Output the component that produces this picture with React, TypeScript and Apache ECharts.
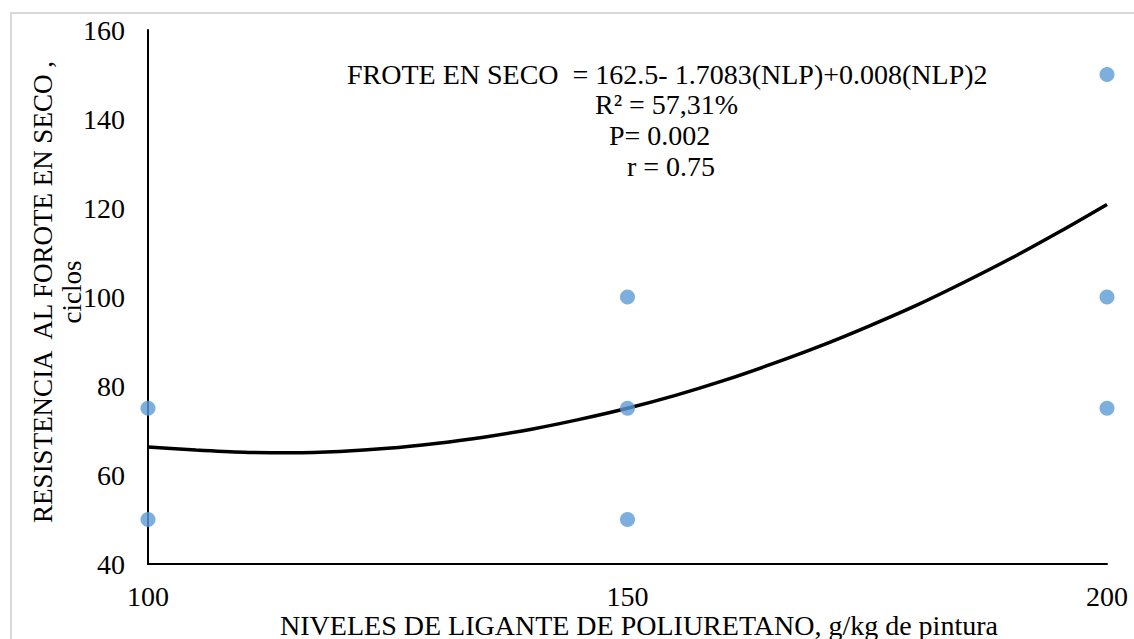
import React, { useEffect, useRef } from "react";
import * as echarts from "echarts";

const xTicks = [100, 150, 200];
const yTicks = [40, 60, 80, 100, 120, 140, 160];

// observed data points (x = NLP level, y = cycles)
const obsX = [100, 100, 150, 150, 150, 200, 200, 200];
const obsY = [75, 50, 100, 75, 50, 150, 100, 75];

// fitted trend curve
const curveX = [100, 105, 110, 115, 120, 125, 130, 135, 140, 145, 150, 155, 160, 165, 170, 175, 180, 185, 190, 195, 200];
const curveY = [66.3, 65.6, 65.1, 65.0, 65.3, 66.0, 67.1, 68.5, 70.3, 72.5, 75.0, 77.9, 81.2, 84.9, 88.9, 93.3, 98.0, 103.2, 108.7, 114.6, 120.8];

const annotationLines = [
  "FROTE EN SECO  = 162.5- 1.7083(NLP)+0.008(NLP)2",
  "R² = 57,31%",
  "P= 0.002",
  "r = 0.75",
];
const yName1 = "RESISTENCIA  AL FOROTE EN SECO ,";
const yName2 = "ciclos";
const xName = "NIVELES DE LIGANTE DE POLIURETANO, g/kg de pintura";

const FONT = "Liberation Serif";

export default function App() {
  const ref = useRef<HTMLDivElement>(null);
  useEffect(() => {
    document.body.style.margin = "0";
    const chart = echarts.init(ref.current!, null, { renderer: "svg" });
    const annX = [347, 595, 609, 627];
    const annY = [74, 104, 135, 166];
    chart.setOption({
      animation: false,
      backgroundColor: "#ffffff",
      textStyle: { fontFamily: FONT },
      grid: { left: 148, right: 27, top: 30, bottom: 75 },
      xAxis: {
        type: "value",
        min: 100,
        max: 200,
        interval: 50,
        axisLine: { show: true, lineStyle: { color: "#000", width: 2 } },
        axisTick: { show: false },
        splitLine: { show: false },
        axisLabel: {
          margin: 18,
          fontFamily: FONT,
          fontSize: 28,
          color: "#000",
          formatter: (v: number) => (xTicks.includes(v) ? String(v) : ""),
        },
      },
      yAxis: {
        type: "value",
        min: 40,
        max: 160,
        interval: 20,
        axisLine: { show: true, lineStyle: { color: "#000", width: 2 } },
        axisTick: { show: false },
        splitLine: { show: false },
        axisLabel: {
          margin: 23,
          fontFamily: FONT,
          fontSize: 28,
          color: "#000",
          formatter: (v: number) => (yTicks.includes(v) ? String(v) : ""),
        },
      },
      series: [
        {
          type: "line",
          data: curveX.map((x, i) => [x, curveY[i]]),
          smooth: 0.3,
          showSymbol: false,
          lineStyle: { color: "#000", width: 3.5 },
          z: 2,
        },
        {
          type: "scatter",
          data: obsX.map((x, i) => [x, obsY[i]]),
          symbolSize: 15,
          itemStyle: { color: "#5b9bd5" },
          clip: false,
          z: 3,
        },
      ],
      graphic: [
        {
          type: "rect",
          shape: { x: 11, y: 13, width: 1300, height: 800 },
          style: { fill: "none", stroke: "#d9d9d9", lineWidth: 2 },
          silent: true,
          z: -10,
        },
        ...annotationLines.map((t, i) => ({
          type: "text",
          x: annX[i],
          y: annY[i],
          style: {
            text: t,
            fontFamily: FONT,
            fontSize: 28,
            fill: "#000",
            align: "left",
            verticalAlign: "middle",
          },
        })),
        {
          type: "text",
          x: 43,
          y: 292,
          rotation: Math.PI / 2,
          style: {
            text: yName1,
            fontFamily: FONT,
            fontSize: 27,
            fill: "#000",
            align: "center",
            verticalAlign: "middle",
          },
        },
        {
          type: "text",
          x: 72,
          y: 292,
          rotation: Math.PI / 2,
          style: {
            text: yName2,
            fontFamily: FONT,
            fontSize: 27,
            fill: "#000",
            align: "center",
            verticalAlign: "middle",
          },
        },
        {
          type: "text",
          x: 639,
          y: 625,
          style: {
            text: xName,
            fontFamily: FONT,
            fontSize: 28,
            fill: "#000",
            align: "center",
            verticalAlign: "middle",
          },
        },
      ],
    });
    return () => chart.dispose();
  }, []);
  return <div ref={ref} style={{ width: 1134, height: 639 }} />;
}
